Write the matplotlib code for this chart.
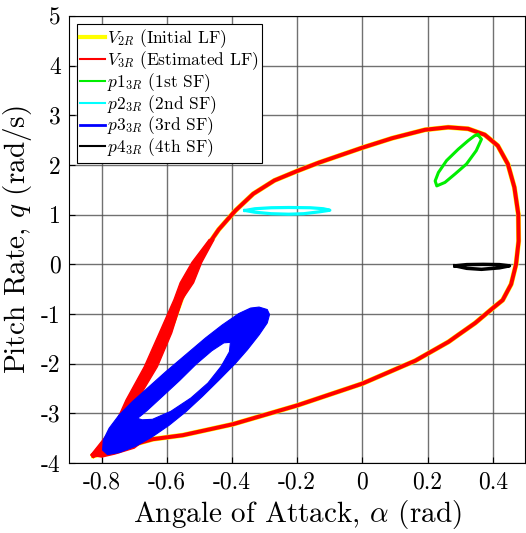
import numpy as np
import matplotlib
matplotlib.use('Agg')
import matplotlib.pyplot as plt
from matplotlib.path import Path
from matplotlib.patches import PathPatch
from matplotlib.lines import Line2D

plt.rcParams['font.family'] = 'serif'
plt.rcParams['font.serif'] = ['cmr10']
plt.rcParams['mathtext.fontset'] = 'cm'
plt.rcParams['axes.unicode_minus'] = False

# main level set (V3R / V2R), closed loop: up the left branch, over the top, back along the bottom
loop_alpha = [-0.825, -0.78, -0.74, -0.705, -0.665, -0.635, -0.605, -0.58, -0.556, -0.535,
              -0.508, -0.49, -0.441, -0.39, -0.335, -0.27, -0.20, -0.133, -0.062, 0.0,
              0.091, 0.192, 0.263, 0.324, 0.375, 0.415, 0.446, 0.466, 0.478, 0.479,
              0.471, 0.456, 0.43, 0.40, 0.346, 0.294, 0.264, 0.162, 0.0, -0.2,
              -0.398, -0.551, -0.643, -0.72, -0.78, -0.825]
loop_q = [-3.85, -3.55, -3.10, -2.70, -2.30, -1.95, -1.55, -1.15, -0.71, -0.37,
          0.04, 0.235, 0.70, 1.08, 1.42, 1.69, 1.88, 2.05, 2.21, 2.35,
          2.54, 2.71, 2.76, 2.73, 2.61, 2.39, 2.02, 1.55, 1.01, 0.47,
          0.0, -0.40, -0.72, -0.88, -1.18, -1.42, -1.56, -1.94, -2.40, -2.84,
          -3.22, -3.44, -3.52, -3.66, -3.80, -3.85]

# thick part of the red band on the left branch
band_q = [-3.84, -3.40, -2.73, -2.06, -1.38, -0.71, -0.37, 0.04, 0.50]
band_left = [-0.833, -0.771, -0.725, -0.669, -0.623, -0.578, -0.559, -0.523, -0.47]
band_right = [-0.80, -0.745, -0.69, -0.629, -0.585, -0.553, -0.518, -0.493, -0.455]

# red bunching near the lower-left tip
tip_alpha = [-0.833, -0.78, -0.72, -0.66, -0.70, -0.76, -0.80]
tip_q = [-3.84, -3.40, -3.20, -3.50, -3.70, -3.82, -3.88]

# 1st SF
p1_alpha = [0.354, 0.365, 0.349, 0.319, 0.284, 0.253, 0.228, 0.223, 0.233, 0.258, 0.294, 0.324, 0.344, 0.354]
p1_q = [2.61, 2.52, 2.29, 2.02, 1.82, 1.65, 1.58, 1.68, 1.85, 2.09, 2.32, 2.49, 2.59, 2.61]

# 2nd SF
p2_alpha = [-0.36, -0.33, -0.28, -0.226, -0.16, -0.12, -0.10, -0.13, -0.18, -0.226, -0.28, -0.33, -0.36]
p2_q = [1.085, 1.12, 1.14, 1.145, 1.14, 1.12, 1.09, 1.06, 1.02, 1.01, 1.02, 1.05, 1.085]

# 3rd SF: outer boundary and inner hole of the band
p3_out_alpha = [-0.317, -0.292, -0.285, -0.292, -0.317, -0.353, -0.389, -0.44, -0.491, -0.542,
                -0.593, -0.644, -0.695, -0.746, -0.782, -0.797, -0.795, -0.777, -0.746, -0.705,
                -0.654, -0.603, -0.542, -0.481, -0.43, -0.379, -0.343]
p3_out_q = [-0.86, -0.91, -1.01, -1.18, -1.42, -1.72, -1.99, -2.33, -2.66, -2.97,
            -3.24, -3.47, -3.66, -3.79, -3.83, -3.74, -3.54, -3.30, -3.03, -2.76,
            -2.46, -2.16, -1.82, -1.48, -1.22, -0.99, -0.88]
p3_in_alpha = [-0.69, -0.676, -0.644, -0.588, -0.526, -0.474, -0.433, -0.408, -0.405,
               -0.425, -0.462, -0.51, -0.561, -0.612, -0.66, -0.682]
p3_in_q = [-3.10, -3.13, -3.12, -2.96, -2.69, -2.39, -2.05, -1.76, -1.57,
           -1.58, -1.74, -2.01, -2.34, -2.65, -2.94, -3.06]

# 4th SF
p4_alpha = [0.284, 0.32, 0.37, 0.42, 0.451, 0.42, 0.365, 0.32, 0.284]
p4_q = [-0.03, -0.005, 0.0, -0.005, -0.03, -0.07, -0.10, -0.08, -0.03]

x_ticks = [-0.8, -0.6, -0.4, -0.2, 0, 0.2, 0.4]
x_labels = ['-0.8', '-0.6', '-0.4', '-0.2', '0', '0.2', '0.4']
y_ticks = [-4, -3, -2, -1, 0, 1, 2, 3, 4, 5]
y_labels = [str(v) for v in y_ticks]

fig = plt.figure(figsize=(5.26, 5.33), dpi=100)
ax = fig.add_axes([0.1312, 0.1313, 0.8678, 0.8386])

ax.plot(loop_alpha, loop_q, color='yellow', lw=3.6, solid_joinstyle='round', zorder=2)
ax.plot(loop_alpha, loop_q, color='red', lw=2.9, solid_joinstyle='round', zorder=3)
ax.fill(np.concatenate([band_left, band_right[::-1]]), np.concatenate([band_q, band_q[::-1]]),
        color='red', lw=1, zorder=3)
ax.fill(tip_alpha, tip_q, color='red', lw=1, zorder=3)

ax.plot(p1_alpha, p1_q, color='#00ee00', lw=2.2, zorder=4)
ax.plot(p2_alpha, p2_q, color='cyan', lw=2.3, zorder=4)

# band with a hole: outer ring one way round, inner ring the other way
verts = list(zip(p3_out_alpha, p3_out_q)) + [(p3_out_alpha[0], p3_out_q[0])]
verts += list(zip(p3_in_alpha, p3_in_q)) + [(p3_in_alpha[0], p3_in_q[0])]
codes = [Path.MOVETO] + [Path.LINETO] * (len(p3_out_alpha) - 1) + [Path.CLOSEPOLY]
codes += [Path.MOVETO] + [Path.LINETO] * (len(p3_in_alpha) - 1) + [Path.CLOSEPOLY]
ax.add_patch(PathPatch(Path(verts, codes), facecolor='blue', edgecolor='blue', lw=0.8,
                       joinstyle='round', zorder=5))

ax.plot(p4_alpha, p4_q, color='black', lw=2.5, zorder=6)

ax.set_xlim(-0.9, 0.5)
ax.set_ylim(-4, 5)
ax.set_xticks(x_ticks, x_labels)
ax.set_yticks(y_ticks, y_labels)
ax.tick_params(direction='in', length=4, labelsize=17, pad=6)
ax.grid(True, color='0.3', lw=1, alpha=0.8)
ax.set_axisbelow(True)
ax.set_xlabel(r'Angale of Attack, $\alpha$ (rad)', fontsize=21, labelpad=3)
ax.set_ylabel(r'Pitch Rate, $q$ (rad/s)', fontsize=21, labelpad=5)

handles = [
    Line2D([], [], color='yellow', lw=3),
    Line2D([], [], color='red', lw=1.5),
    Line2D([], [], color='#00ee00', lw=1.5),
    Line2D([], [], color='cyan', lw=1.5),
    Line2D([], [], color='blue', lw=2),
    Line2D([], [], color='black', lw=1.5),
]
labels = [r'$V_{2R}$ (Initial LF)', r'$V_{3R}$ (Estimated LF)', r'$p1_{3R}$ (1st SF)',
          r'$p2_{3R}$ (2nd SF)', r'$p3_{3R}$ (3rd SF)', r'$p4_{3R}$ (4th SF)']
leg = ax.legend(handles, labels, loc='upper left', fontsize=12.5, fancybox=False,
                framealpha=1, edgecolor='black', handlelength=1.45, handletextpad=0.08,
                labelspacing=-0.05, borderpad=0.2, borderaxespad=0.45)
leg.get_frame().set_linewidth(0.8)

fig.savefig('out.png', dpi=100)
